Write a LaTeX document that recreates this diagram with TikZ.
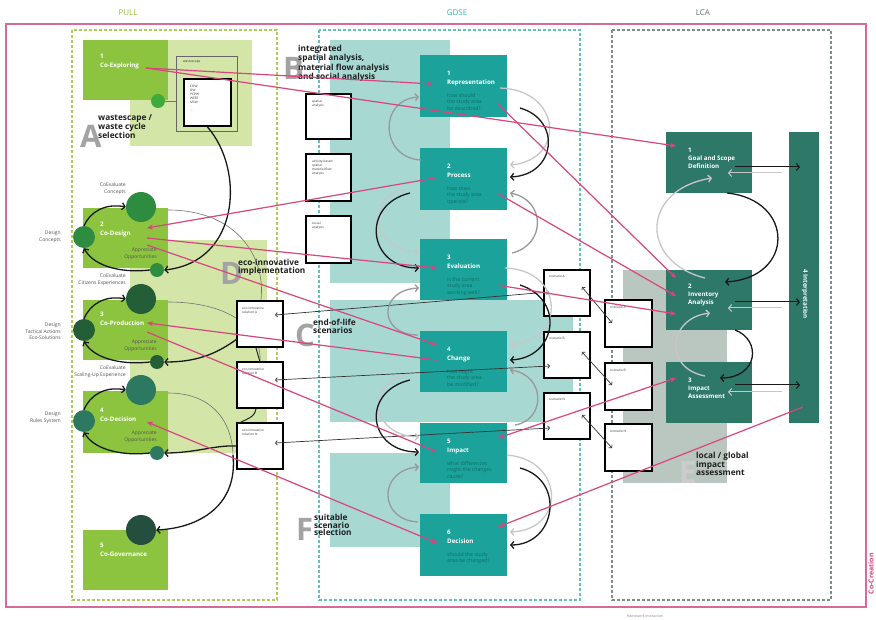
\documentclass[tikz,border=0pt]{standalone}
\usepackage{fontspec}
\setmainfont{Open Sans}
\usetikzlibrary{arrows.meta}
\definecolor{pinkc}{HTML}{D8457F}
\definecolor{framec}{HTML}{D66A9A}
\definecolor{pullc}{HTML}{B3CB5B}
\definecolor{pullhdr}{HTML}{9DBF3F}
\definecolor{gdsec}{HTML}{5EC3BA}
\definecolor{gdsehdr}{HTML}{3FB4AA}
\definecolor{lcac}{HTML}{7D8E88}
\definecolor{lcahdr}{HTML}{5E6F6A}
\definecolor{boxgreen}{HTML}{8DC43F}
\definecolor{palegreen}{HTML}{D4E5A8}
\definecolor{tealbox}{HTML}{1BA39B}
\definecolor{paleteal}{HTML}{A8D8D2}
\definecolor{lcabox}{HTML}{2E7868}
\definecolor{palegray}{HTML}{BAC6C0}
\definecolor{qtext}{HTML}{0D6E68}
\definecolor{letterc}{HTML}{A3A3A3}
\definecolor{cA}{HTML}{2E8C40}
\definecolor{cB}{HTML}{235E37}
\definecolor{cC}{HTML}{2C7860}
\definecolor{cD}{HTML}{244E3E}
\definecolor{cE}{HTML}{3DAA3B}
\definecolor{labc}{HTML}{555555}
\tikzset{
  gbox/.style={fill=boxgreen, draw=none, minimum width=85pt, minimum height=60pt, anchor=north west, inner sep=0pt},
  tbox/.style={fill=tealbox, draw=none, minimum width=87pt, minimum height=61pt, anchor=north west, inner sep=0pt},
  lbox/.style={fill=lcabox, draw=none, minimum width=86pt, minimum height=61pt, anchor=north west, inner sep=0pt},
  wbox/.style={fill=white, draw=black, line width=2pt, minimum width=45pt, minimum height=45pt, anchor=north west, inner sep=0pt},
  tinytxt/.style={anchor=north west, align=left, inner sep=0pt, font=\fontsize{3.2}{3.9}\selectfont, text=black!80},
  wtitle/.style={anchor=north west, align=left, inner sep=0pt, text=white, font=\fontsize{6.2}{9}\selectfont\bfseries},
  qtxt/.style={anchor=north west, align=left, inner sep=0pt, text=qtext, font=\fontsize{5.2}{6.6}\selectfont},
  sidelab/.style={align=right, inner sep=0pt, text=labc, font=\fontsize{5}{6.2}\selectfont},
  bigletter/.style={anchor=base west, inner sep=0pt, text=letterc, font=\fontsize{31}{31}\selectfont\bfseries},
  boldlab/.style={anchor=north west, align=left, inner sep=0pt, text=black!88, font=\fontsize{8.3}{7.6}\selectfont\bfseries},
  hdr/.style={inner sep=0pt, font=\fontsize{8}{9}\selectfont},
  blk/.style={draw=black!90, line width=1.3pt, -{Straight Barb[length=3pt,width=7pt]}},
  gry/.style={draw=black!40, line width=1.3pt, -{Straight Barb[length=3pt,width=7pt]}},
  lgry/.style={draw=black!22, line width=1.3pt, -{Straight Barb[length=3pt,width=7pt]}},
  thinarc/.style={draw=black!55, line width=0.6pt},
  pk/.style={draw=pinkc, line width=1.2pt, -{Stealth[length=6pt,width=5pt]}},
  pkk/.style={draw=pinkc, line width=1.2pt, {Stealth[length=6pt,width=5pt]}-{Stealth[length=6pt,width=5pt]}},
  tarr/.style={draw=black!80, line width=0.7pt, {Straight Barb[length=2pt,width=4.5pt]}-{Straight Barb[length=2pt,width=4.5pt]}},
}
\begin{document}
\begin{tikzpicture}[x=1pt,y=-1pt]
\useasboundingbox (0,0) rectangle (876,620);
\fill[white] (0,0) rectangle (876,620);

% frame and headers
\draw[framec, line width=1.2pt] (6,24) rectangle (866,607);
\node[hdr, text=pullhdr] (hpull) at (128,13) {PULL};
\node[hdr, text=gdsehdr] (hgdse) at (457,13) {GDSE};
\node[hdr, text=lcahdr] (hlca) at (703,13) {LCA};
\node[inner sep=0pt, text=black!50, font=\fontsize{3.5}{4}\selectfont] (fwi) at (645,616) {framework interaction};
\node[anchor=east, rotate=90, inner sep=0pt, text=pinkc, font=\fontsize{7}{8}\selectfont\bfseries] (cocr) at (871,553) {Co-Creation};

% dashed panels
\draw[pullc, line width=1.2pt, dash pattern=on 3pt off 2pt] (72,30) rectangle (277,600);
\draw[gdsec, line width=1.2pt, dash pattern=on 3pt off 2pt] (319,30) rectangle (580,600);
\draw[lcac, line width=1.2pt, dash pattern=on 3pt off 2pt] (612,30) rectangle (831,600);

% pale regions
\fill[palegreen] (130,40) rectangle (252,146);
\fill[palegreen] (130,240) rectangle (267,453);
\fill[paleteal] (330,40) rectangle (450,283);
\fill[paleteal] (330,300) rectangle (573,422);
\fill[paleteal] (330,453) rectangle (450,547);
\fill[palegray] (623,270) rectangle (727,483);

% big letters
\node[bigletter] (LA) at (80,148) {A};
\node[bigletter] (LB) at (283,80) {B};
\node[bigletter] (LC) at (295,347) {C};
\node[bigletter] (LD) at (220,285) {D};
\node[bigletter, text=black!20] (LE) at (679,483) {E};
\node[bigletter] (LF) at (296,540) {F};

% thin arcs in PULL (behind boxes)
\draw[thinarc] (168,210) .. controls (235,210) and (266,255) .. (261,300);
\draw[thinarc] (168,302) .. controls (225,302) and (262,325) .. (260,362);
\draw[thinarc] (168,393) .. controls (215,393) and (234,425) .. (233,460);
\draw[thinarc] (165,101) -- (176,101);

% PULL boxes
\node[gbox] (coex) at (83,40) {};
\node[gbox] (codes) at (83,208) {};
\node[gbox] (coprod) at (83,300) {};
\node[gbox, minimum height=62pt] (codec) at (83,391) {};
\node[gbox] (cogov) at (83,530) {};
\node[wtitle] (tcoex) at (100,53.5) {1\\Co-Exploring};
\node[wtitle] (tcodes) at (100,222) {2\\Co-Design};
\node[wtitle] (tcoprod) at (100,311.5) {3\\Co-Production};
\node[wtitle] (tcodec) at (100,408) {4\\Co-Decision};
\node[wtitle] (tcogov) at (100,542.5) {5\\Co-Governance};

% wastescape
\draw[draw=black!60, line width=0.6pt] (176,56) rectangle (237,131);
\node[tinytxt] (wslab) at (183,60) {wastescape};
\node[wbox, minimum width=47pt, minimum height=47pt] (wsbox) at (183,78) {};
\node[tinytxt] (wstxt) at (190,85) {CDW\\DW\\PCPW\\WEEE\\MSW\\[4pt]...};

% circles
\node[circle, fill=cE, minimum size=14pt, inner sep=0pt] (cexS) at (158,101) {};
\node[circle, fill=cA, minimum size=30pt, inner sep=0pt] (cdT) at (141,207) {};
\node[circle, fill=cA, minimum size=22pt, inner sep=0pt] (cdL) at (84,237) {};
\node[circle, fill=cA, minimum size=14pt, inner sep=0pt] (cdS) at (157,270) {};
\node[circle, fill=cB, minimum size=30pt, inner sep=0pt] (cpT) at (141,299) {};
\node[circle, fill=cB, minimum size=22pt, inner sep=0pt] (cpL) at (84,330) {};
\node[circle, fill=cB, minimum size=14pt, inner sep=0pt] (cpS) at (157,362) {};
\node[circle, fill=cC, minimum size=30pt, inner sep=0pt] (ccT) at (141,390) {};
\node[circle, fill=cC, minimum size=22pt, inner sep=0pt] (ccL) at (84,421) {};
\node[circle, fill=cC, minimum size=14pt, inner sep=0pt] (ccS) at (157,453) {};
\node[circle, fill=cD, minimum size=30pt, inner sep=0pt] (cgT) at (141,530) {};

% side labels
\node[sidelab, anchor=north east] (l1) at (126,183) {CoEvaluate\\Concepts};
\node[sidelab, anchor=north east] (l2) at (61,231) {Design\\Concepts};
\node[sidelab, anchor=north east] (l3) at (157,248) {Appreciate\\Opportunities};
\node[sidelab, anchor=north east] (l4) at (126,274) {CoEvaluate\\Citizens Experiences};
\node[sidelab, anchor=north east] (l5) at (61,323) {Design\\Tactical Actions\\Eco-Solutions};
\node[sidelab, anchor=north east] (l6) at (157,340) {Appreciate\\Opportunities};
\node[sidelab, anchor=north east] (l7) at (126,366) {CoEvaluate\\Scaling-Up Experience};
\node[sidelab, anchor=north east] (l8) at (61,412) {Design\\Rules System};
\node[sidelab, anchor=north east] (l9) at (157,431) {Appreciate\\Opportunities};

% GDSE boxes
\node[tbox, minimum height=62pt] (rep) at (420,55) {};
\node[tbox, minimum height=62pt] (proc) at (420,148) {};
\node[tbox] (eval) at (420,239) {};
\node[tbox] (chg) at (420,331) {};
\node[tbox, minimum height=60pt] (imp) at (420,423) {};
\node[tbox, minimum height=62pt] (dec) at (420,514) {};
\node[wtitle] (trep) at (447,70.5) {1\\Representation};
\node[qtxt] (qrep) at (447,93) {how should\\the study area\\be described?};
\node[wtitle] (tproc) at (447,163.5) {2\\Process};
\node[qtxt] (qproc) at (447,186) {how does\\the study area\\operate?};
\node[wtitle] (teval) at (447,254.5) {3\\Evaluation};
\node[qtxt] (qeval) at (447,277) {is the current\\study area\\working well?};
\node[wtitle] (tchg) at (447,346.5) {4\\Change};
\node[qtxt] (qchg) at (447,369) {how might\\the study area\\be modified?};
\node[wtitle] (timp) at (447,438.5) {5\\Impact};
\node[qtxt] (qimp) at (447,461) {what differences\\might the changes\\cause?};
\node[wtitle] (tdec) at (447,529.5) {6\\Decision};
\node[qtxt] (qdec) at (447,552) {should the study\\area be changed?};

% GDSE analysis boxes
\node[wbox, minimum height=45pt] (sa) at (305,93) {};
\node[tinytxt] (tsa) at (312,100) {spatial\\analysis};
\node[wbox, minimum height=47pt] (mfa) at (305,153) {};
\node[tinytxt] (tmfa) at (312,160) {activity-based\\spatial\\material flow\\analysis};
\node[wbox, minimum height=47pt] (soc) at (305,215) {};
\node[tinytxt] (tsoc) at (312,222) {social\\analysis};

% eco-innovative boxes
\node[wbox, minimum width=46pt, minimum height=46pt] (ecoA) at (236,300) {};
\node[tinytxt] (tecoA) at (242,307) {eco-innovative\\solution A};
\node[wbox, minimum width=46pt, minimum height=46pt] (ecoB) at (236,361) {};
\node[tinytxt] (tecoB) at (242,368) {eco-innovative\\solution B};
\node[wbox, minimum width=46pt, minimum height=46pt] (ecoN) at (236,422) {};
\node[tinytxt] (tecoN) at (242,429) {eco-innovative\\solution N};

% scenario boxes
\node[wbox, minimum width=46pt, minimum height=46pt] (scA) at (543,269) {};
\node[tinytxt] (tscA) at (549,275) {scenario A};
\node[wbox, minimum width=46pt, minimum height=46pt] (scB) at (543,331) {};
\node[tinytxt] (tscB) at (549,337) {scenario B};
\node[wbox, minimum width=46pt, minimum height=46pt] (scN) at (543,392) {};
\node[tinytxt] (tscN) at (549,398) {scenario N};
\node[wbox, minimum width=47pt, minimum height=47pt] (sdA) at (604,299) {};
\node[tinytxt] (tsdA) at (610,306) {scenario A};
\node[wbox, minimum width=47pt, minimum height=47pt] (sdB) at (604,362) {};
\node[tinytxt] (tsdB) at (610,369) {scenario B};
\node[wbox, minimum width=47pt, minimum height=47pt] (sdN) at (604,423) {};
\node[tinytxt] (tsdN) at (610,430) {scenario N};

% LCA boxes
\node[lbox] (goal) at (666,132) {};
\node[lbox, minimum height=60pt] (inv) at (666,270) {};
\node[lbox] (impa) at (666,362) {};
\node[lbox, minimum width=30pt, minimum height=291pt] (interp) at (789,132) {};
\node[wtitle, font=\fontsize{6.2}{8}\selectfont\bfseries] (tgoal) at (688,148) {1\\Goal and Scope\\Definition};
\node[wtitle, font=\fontsize{6.2}{8}\selectfont\bfseries] (tinv) at (688,284) {2\\Inventory\\Analysis};
\node[wtitle, font=\fontsize{6.2}{8}\selectfont\bfseries] (timpa) at (688,378) {3\\Impact\\Assessment};
\node[rotate=-90, inner sep=0pt, text=white, font=\fontsize{6.2}{8}\selectfont\bfseries] (tinterp) at (805,294) {4 Interpretation};

% bold labels
\node[boldlab] (bA) at (98,114) {wastescape /\\waste cycle\\selection};
\node[boldlab] (bB) at (298,45) {integrated\\spatial analysis,\\material flow analysis\\and social analysis};
\node[boldlab] (bC) at (313,319) {end-of-life\\scenarios};
\node[boldlab] (bD) at (238,259) {eco-innovative\\implementation};
\node[boldlab] (bE) at (696,452) {local / global\\impact\\assessment};
\node[boldlab] (bF) at (314,514) {suitable\\scenario\\selection};

% PULL black arrows
\draw[blk] (wsbox.south) .. controls (245,170) and (240,262) .. (cdS.east);
\draw[blk] (cdL.north) .. controls (90,212) and (105,203) .. (cdT.west);
\draw[blk] (cdS.west) .. controls (125,273) and (95,268) .. (cdL.south);
\draw[blk] (cpL.north) .. controls (90,304) and (105,295) .. (cpT.west);
\draw[blk] (cpS.west) .. controls (125,365) and (95,360) .. (cpL.south);
\draw[blk] (ccL.north) .. controls (90,395) and (105,386) .. (ccT.west);
\draw[blk] (ccS.west) .. controls (125,456) and (95,451) .. (ccL.south);
\draw[blk] (ecoA.south west) ++(1,-9) .. controls (215,355) and (195,362) .. (cpS.east);
\draw[blk] (ecoN.west) .. controls (215,445) and (195,453) .. (ccS.east);
\draw[blk] (233,455) .. controls (238,505) and (200,528) .. (cgT.east);
\draw[black!85, line width=1pt] (ecoA.south) ++(-4,0) -- (260,362);
\draw[black!85, line width=1pt] (ecoB.south) ++(-4,0) .. controls (254,416) .. (237,424);

% eco <-> scenario, scenario <-> scenario
\draw[tarr] (275,315) -- (549,292);
\draw[tarr] (275,380) -- (550,366);
\draw[tarr] (275,443) -- (550,428);
\draw[tarr] (582,287) -- (612,323);
\draw[tarr] (582,352) -- (612,385);
\draw[tarr] (582,415) -- (612,448);

% GDSE loops left
\draw[gry] (421,160) .. controls (380,158) and (378,100) .. (419,97);
\draw[lgry] (405,189) .. controls (366,195) and (370,250) .. (419,252);
\draw[blk] (410,193) .. controls (360,205) and (368,268) .. (419,268);
\draw[gry] (418,335) .. controls (378,335) and (378,290) .. (419,288);
\draw[lgry] (405,375) .. controls (366,385) and (370,435) .. (419,437);
\draw[blk] (410,380) .. controls (360,392) and (368,452) .. (419,452);
\draw[gry] (418,522) .. controls (378,520) and (378,470) .. (419,467);
% GDSE loops right
\draw[lgry] (500,88) .. controls (562,90) and (566,160) .. (510,165);
\draw[blk] (520,108) .. controls (562,120) and (556,175) .. (510,177);
\draw[gry] (512,253) .. controls (546,245) and (546,200) .. (510,193);
\draw[lgry] (505,268) .. controls (565,270) and (566,340) .. (510,345);
\draw[blk] (520,285) .. controls (566,300) and (556,358) .. (510,360);
\draw[gry] (515,425) .. controls (546,420) and (546,375) .. (510,370);
\draw[lgry] (507,455) .. controls (565,460) and (566,530) .. (510,532);
\draw[blk] (520,468) .. controls (566,480) and (556,545) .. (510,545);

% LCA loops and arrows
\draw[lgry] (705,278) .. controls (640,262) and (640,190) .. (712,178);
\draw[blk] (727,193) .. controls (795,200) and (795,278) .. (725,282);
\draw[lgry] (705,376) .. controls (663,368) and (668,318) .. (710,313);
\draw[blk] (735,330) .. controls (762,340) and (758,378) .. (720,378);
\draw[blk, line width=1pt] (735,167) -- (800,167);
\draw[lgry, line width=1pt] (782,173) -- (728,173);
\draw[blk, line width=1pt] (735,302) -- (800,302);
\draw[lgry, line width=1pt] (782,308) -- (728,308);
\draw[blk, line width=1pt] (735,385) -- (800,385);
\draw[lgry, line width=1pt] (782,392) -- (728,392);

% pink connectors
\coordinate (coexR) at (146,68);
\coordinate (repL) at (433,84);
\coordinate (goalL) at (676,146);
\coordinate (repR) at (497,103);
\coordinate (invL1) at (676,278);
\coordinate (procR) at (497,193);
\coordinate (invL2) at (676,296);
\coordinate (evalR) at (497,285);
\coordinate (invL3) at (676,314);
\coordinate (procL) at (435,178);
\coordinate (codesR1) at (147,228);
\coordinate (codesR2) at (147,238);
\coordinate (evalL) at (437,268);
\coordinate (codesR3) at (147,245);
\coordinate (chgL1) at (437,345);
\coordinate (chgL2) at (437,360);
\coordinate (coprodR1) at (147,323);
\coordinate (coprodR2) at (147,332);
\coordinate (impL) at (437,452);
\coordinate (codecR) at (147,422);
\coordinate (decL) at (437,543);
\coordinate (impR) at (498,438);
\coordinate (impaL) at (676,378);
\coordinate (interpB) at (803,407);
\coordinate (decR) at (498,527);
\draw[pk] (coexR) -- (repL);
\draw[pk] (coexR) -- (goalL);
\draw[pk] (repR) -- (invL1);
\draw[pk] (procR) -- (invL2);
\draw[pk] (evalR) -- (invL3);
\draw[pk] (procL) -- (codesR1);
\draw[pk] (codesR2) -- (evalL);
\draw[pk] (codesR3) -- (chgL1);
\draw[pk] (chgL2) -- (coprodR1);
\draw[pk] (coprodR2) -- (impL);
\draw[pkk] (codecR) -- (decL);
\draw[pkk] (impR) -- (impaL);
\draw[pk] (interpB) -- (decR);
\end{tikzpicture}
\end{document}
